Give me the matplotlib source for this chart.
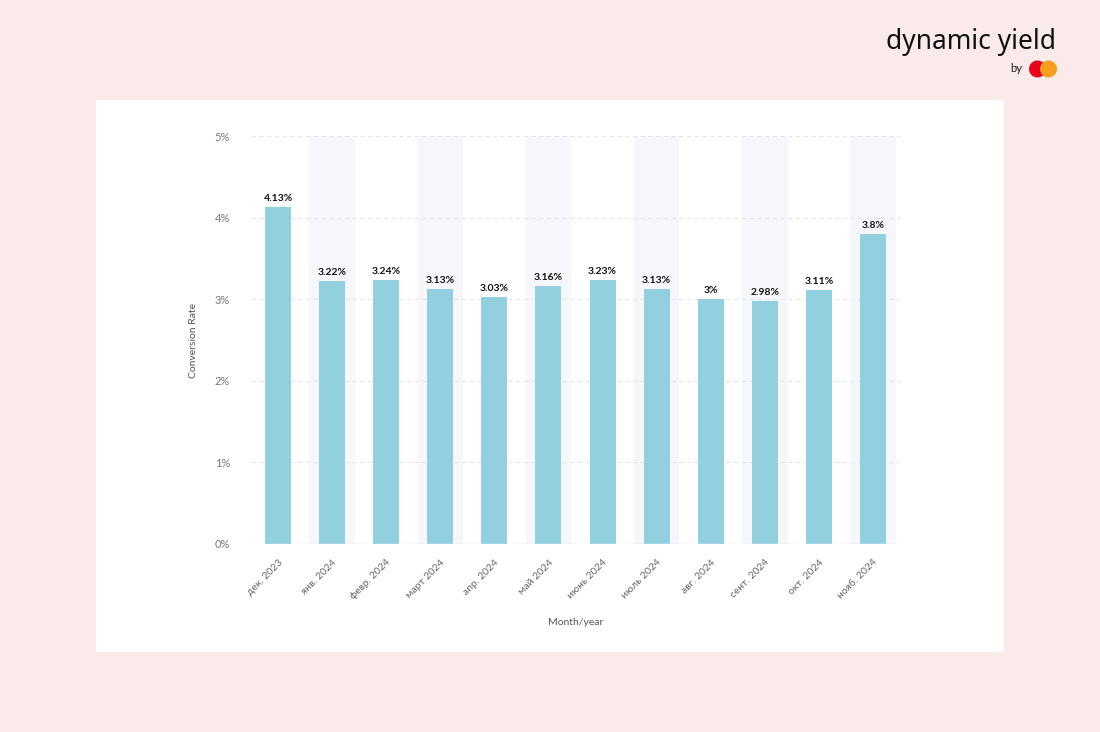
import matplotlib
matplotlib.use("Agg")
import matplotlib.pyplot as plt
from matplotlib.patches import Rectangle, Circle
import numpy as np

months = ["дек. 2023", "янв. 2024", "февр. 2024", "март 2024", "апр. 2024", "май 2024",
          "июнь 2024", "июль 2024", "авг. 2024", "сент. 2024", "окт. 2024", "нояб. 2024"]
rates = [4.13, 3.22, 3.24, 3.13, 3.03, 3.16, 3.23, 3.13, 3.0, 2.98, 3.11, 3.8]
labels = ["4.13%", "3.22%", "3.24%", "3.13%", "3.03%", "3.16%", "3.23%", "3.13%", "3%", "2.98%", "3.11%", "3.8%"]
yticks = [0, 1, 2, 3, 4, 5]
ytick_labels = ["0%", "1%", "2%", "3%", "4%", "5%"]

plt.rcParams['font.family'] = ['Lato', 'DejaVu Sans']

W, H = 1100, 732
fig = plt.figure(figsize=(W / 100, H / 100), dpi=100)
fig.patch.set_facecolor("#FAEBEA")

# white panel
panel = Rectangle((96 / W, 1 - 652 / H), (1004 - 96) / W, (652 - 100) / H,
                  transform=fig.transFigure, facecolor="white", edgecolor="none", zorder=0)
fig.add_artist(panel)

ax = fig.add_axes([251 / W, 1 - 544 / H, (900 - 251) / W, (544 - 136) / H])
ax.set_facecolor("none")
x = np.arange(len(months))
ax.set_xlim(-0.5, len(months) - 0.5)
ax.set_ylim(0, 5)

# alternating bands
for i in x:
    if i % 2 == 1:
        ax.axvspan(i - 0.42, i + 0.42, color="#F6F7FB", zorder=0, lw=0)

for y in yticks[1:]:
    ax.axhline(y, color="#E6E6E6", lw=0.8, ls=(0, (4, 3)), zorder=1)
ax.axhline(0, color="#E3E6EA", lw=1, zorder=3)

ax.bar(x, rates, width=0.48, color="#92CFDF", zorder=2)
for xi, r, lab in zip(x, rates, labels):
    ax.text(xi, r + 0.05, lab, ha="center", va="bottom", fontsize=7.5,
            fontweight="bold", color="#111111", zorder=4)

for s in ax.spines.values():
    s.set_visible(False)
ax.set_yticks(yticks)
ax.set_yticklabels(ytick_labels, fontsize=8, color="#777777")
ax.tick_params(axis="y", length=0, pad=15)
ax.set_xticks(x)
ax.set_xticklabels(months, rotation=45, ha="right", rotation_mode="anchor",
                   fontsize=7.5, color="#666666")
ax.tick_params(axis="x", length=0, pad=10)

ax.set_ylabel("Conversion Rate", fontsize=7.5, color="#555555")
ax.set_xlabel("Month/year", fontsize=7.5, color="#555555", labelpad=12)
ax.yaxis.set_label_coords(-(251 - 198) / (900 - 251), 0.5)

# logo
fig.text(1056 / W, 1 - 42 / H, "dynamic yield", ha="right", va="center",
         fontsize=19, color="#111111", family=["Noto Sans", "DejaVu Sans"],
         fontweight="light")
fig.text(1022 / W, 1 - 69 / H, "by", ha="right", va="center", fontsize=8,
         color="#1a1a1a")
ax_logo = fig.add_axes([1026 / W, 1 - 80 / H, 34 / W, 22 / H])
ax_logo.set_xlim(0, 34)
ax_logo.set_ylim(0, 22)
ax_logo.set_aspect("equal")
ax_logo.axis("off")
ax_logo.add_patch(Circle((11.5, 11), 8.5, color="#EB001B", lw=0))
ax_logo.add_patch(Circle((22.5, 11), 8.5, color="#F79E1B", lw=0))

fig.savefig("out.png", dpi=100, facecolor=fig.get_facecolor())
